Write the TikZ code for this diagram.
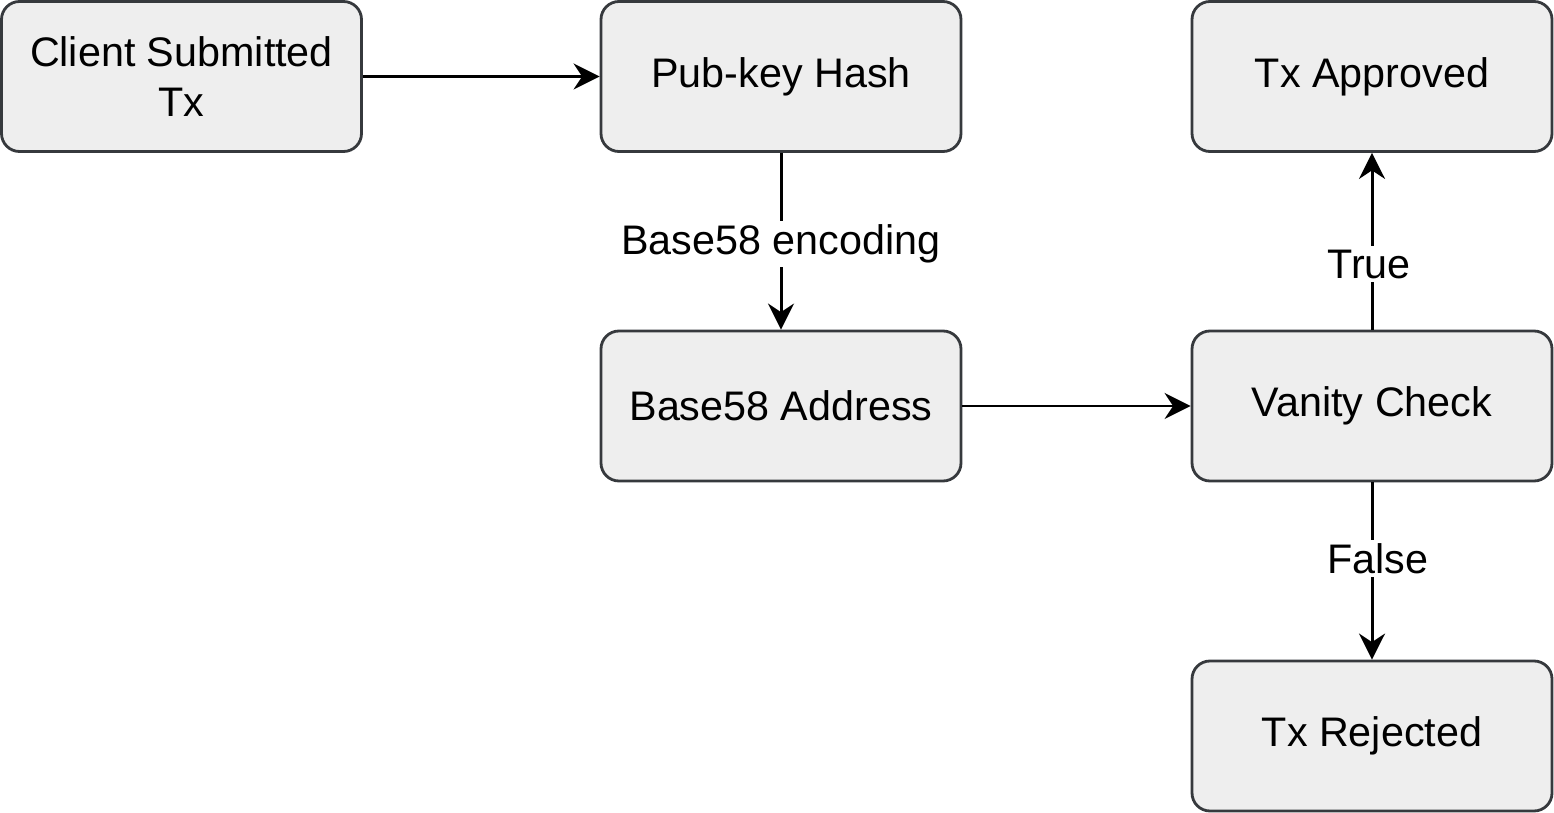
\documentclass[tikz,border=0pt]{standalone}
\usepackage{fontspec}
\setmainfont{Liberation Sans}
\usepackage{tikz}
\usetikzlibrary{positioning, arrows.meta}

\definecolor{boxfill}{HTML}{EEEEEE}
\definecolor{boxline}{HTML}{36393D}

\begin{document}
\begin{tikzpicture}[font=\fontsize{23.5}{28}\selectfont]
        % Setup the style for the boxes
        \tikzset{box style/.style={rectangle,
                                   rounded corners=0.36cm,
                                   minimum width=7.2cm,
                                   minimum height=3cm,
                                   align=center,
                                   line width=1.6pt,
                                   draw=boxline,
                                   fill=boxfill}}
        \tikzset{link style/.style={line width=1.7pt,
                                    -{Stealth[length=0.52cm,width=0.52cm,inset=0.17cm]}}}
        \tikzset{label style/.style={fill=white, inner sep=2pt}}
        \useasboundingbox (0,0) rectangle (31.08,-16.26);

        % Draw the boxes
        \node[box style] at (3.63, -1.53) (client) {Client Submitted\\Tx};
        \node[box style] at (15.62, -1.53) (pubkey) {\raisebox{-0.06cm}{Pub-key Hash}};
        \node[box style] at (27.44, -1.53) (approved) {\raisebox{-0.06cm}{Tx Approved}};
        \node[box style] at (15.62, -8.12) (address) {Base58 Address};
        \node[box style] at (27.44, -8.12) (vanity) {\raisebox{-0.06cm}{Vanity Check}};
        \node[box style] at (27.44, -14.72) (rejected) {\raisebox{-0.06cm}{Tx Rejected}};

        % Connect the boxes with arrows
        \draw[link style] (client) -- (pubkey);
        \draw[link style] (pubkey) -- node[label style, yshift=-0.06cm] {Base58 encoding} (address);
        \draw[link style] (address) -- (vanity);
        \draw[link style] (vanity) -- node[label style, pos=0.37, xshift=-0.06cm] {True} (approved);
        \draw[link style] (vanity) -- node[label style, pos=0.43, xshift=0.12cm] {False} (rejected);
\end{tikzpicture}
\end{document}
